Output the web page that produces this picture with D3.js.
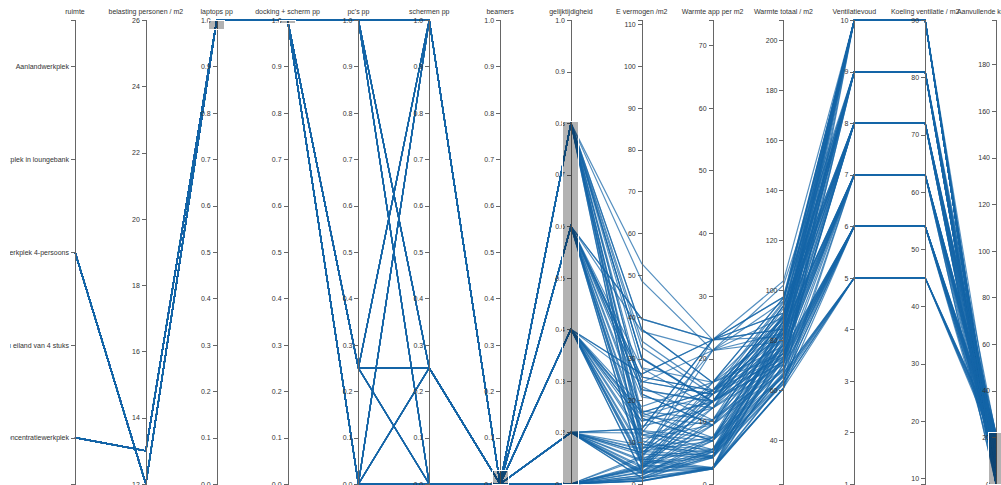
<!DOCTYPE html>
<html>
<head>
<meta charset="utf-8">
<style>
body { margin: 0; background: #fff; overflow: hidden; }
svg { position: absolute; left: 10px; top: 0; font: 7px Arial, "Liberation Sans", sans-serif; }
.foreground path { fill: none; stroke: #1565a8; stroke-opacity: .72; stroke-width: 1.2; }
.axis path, .axis line { fill: none; stroke: #666; shape-rendering: crispEdges; }
.axis text { fill: #333; }
.title { fill: #333; text-anchor: middle; }
.brush .selection { fill: #000; fill-opacity: .3; stroke: #fff; shape-rendering: crispEdges; }
</style>
</head>
<body>
<script src="https://cdn.jsdelivr.net/npm/d3@7"></script>
<script>
// axis titles, left to right
const dims = ["ruimte", "belasting personen / m2", "laptops pp", "docking + scherm pp",
  "pc's pp", "schermen pp", "beamers", "gelijktijdigheid", "E vermogen /m2",
  "Warmte app per m2", "Warmte totaal / m2", "Ventilatievoud",
  "Koeling ventilatie / m2", "Aanvullende koeling / m2"];

const ruimteCategories = ["Aanlandwerkplek", "Werkplek in loungebank", "Werkplek 4-persoons",
  "Bureau eiland van 4 stuks", "Concentratiewerkplek"];

// axis extents and tick counts (numeric axes, same order as dims after "ruimte")
const axisMin = [12, 0, 0, 0, 0, 0, 0.1, 0, 0, 22.4, 1, 9, 0];
const axisMax = [26, 1, 1, 1, 1, 1, 1, 111, 74, 208, 10, 90, 199];
const tickCount = [7, 10, 10, 10, 10, 10, 10, 10, 10, 10, 10, 10, 10];

// brushed ranges
const brushDims = ["laptops pp", "docking + scherm pp", "beamers", "gelijktijdigheid", "Aanvullende koeling / m2"];
const brushMin = [0.98, 0.992, 0, 0.1, 0];
const brushMax = [1, 1, 0.03, 0.803, 22.3];

// one entry per visible line
const ruimteIdx = [
  2,2,2,2,2,2,2,2,2, 2,2,2,2,2,2,2,2,2, 2,2,2,2,2,2,2,2,2, 2,2,2,2,2,2,2,2,2, 2,2,2,2,2,2,2,2,2,
  4,4,4,4,4,4,4,4,4, 4,4,4,4,4,4,4,4,4, 4,4,4,4,4,4,4,4,4, 4,4,4,4,4,4,4,4,4, 4,4,4,4,4,4,4,4,4,
  2,2,2,2,2,4,4,4,2,4,2,4];
const belasting = [
  12,12,12,12,12,12,12,12,12, 12,12,12,12,12,12,12,12,12, 12,12,12,12,12,12,12,12,12, 12,12,12,12,12,12,12,12,12, 12,12,12,12,12,12,12,12,12,
  13,13,13,13,13,13,13,13,13, 13,13,13,13,13,13,13,13,13, 13,13,13,13,13,13,13,13,13, 13,13,13,13,13,13,13,13,13, 13,13,13,13,13,13,13,13,13,
  12,12,12,12,12,13,13,13,12,13,12,13];
const laptops = [
  1,1,1,1,1,1,1,1,1, 1,1,1,1,1,1,1,1,1, 1,1,1,1,1,1,1,1,1, 1,1,1,1,1,1,1,1,1, 1,1,1,1,1,1,1,1,1,
  1,1,1,1,1,1,1,1,1, 1,1,1,1,1,1,1,1,1, 1,1,1,1,1,1,1,1,1, 1,1,1,1,1,1,1,1,1, 1,1,1,1,1,1,1,1,1,
  1,1,1,1,1,1,1,1,1,1,1,1];
const docking = [
  1,1,1,1,1,1,1,1,1, 1,1,1,1,1,1,1,1,1, 1,1,1,1,1,1,1,1,1, 1,1,1,1,1,1,1,1,1, 1,1,1,1,1,1,1,1,1,
  1,1,1,1,1,1,1,1,1, 1,1,1,1,1,1,1,1,1, 1,1,1,1,1,1,1,1,1, 1,1,1,1,1,1,1,1,1, 1,1,1,1,1,1,1,1,1,
  1,1,1,1,1,1,1,1,1,1,1,1];
const pcs = [
  1,1,1,.25,.25,.25,0,0,0, 1,1,1,.25,.25,.25,0,0,0, 1,1,1,.25,.25,.25,0,0,0, 1,1,1,.25,.25,.25,0,0,0, 1,1,1,.25,.25,.25,0,0,0,
  1,1,1,.25,.25,.25,0,0,0, 1,1,1,.25,.25,.25,0,0,0, 1,1,1,.25,.25,.25,0,0,0, 1,1,1,.25,.25,.25,0,0,0, 1,1,1,.25,.25,.25,0,0,0,
  1,.25,1,1,1,.25,1,1,0,0,1,0];
const schermen = [
  1,.25,0,1,.25,0,1,.25,0, 1,.25,0,1,.25,0,1,.25,0, 1,.25,0,1,.25,0,1,.25,0, 1,.25,0,1,.25,0,1,.25,0, 1,.25,0,1,.25,0,1,.25,0,
  1,.25,0,1,.25,0,1,.25,0, 1,.25,0,1,.25,0,1,.25,0, 1,.25,0,1,.25,0,1,.25,0, 1,.25,0,1,.25,0,1,.25,0, 1,.25,0,1,.25,0,1,.25,0,
  .25,1,1,1,1,.25,.25,.25,0,0,0,1];
const beamers = [
  0,0,0,0,0,0,0,0,0, 0,0,0,0,0,0,0,0,0, 0,0,0,0,0,0,0,0,0, 0,0,0,0,0,0,0,0,0, 0,0,0,0,0,0,0,0,0,
  0,0,0,0,0,0,0,0,0, 0,0,0,0,0,0,0,0,0, 0,0,0,0,0,0,0,0,0, 0,0,0,0,0,0,0,0,0, 0,0,0,0,0,0,0,0,0,
  0,0,0,0,0,0,0,0,0,0,0,0];
const gelijktijdigheid = [
  .8,.8,.8,.8,.8,.8,.8,.8,.8, .6,.6,.6,.6,.6,.6,.6,.6,.6, .4,.4,.4,.4,.4,.4,.4,.4,.4, .2,.2,.2,.2,.2,.2,.2,.2,.2, .1,.1,.1,.1,.1,.1,.1,.1,.1,
  .8,.8,.8,.8,.8,.8,.8,.8,.8, .6,.6,.6,.6,.6,.6,.6,.6,.6, .4,.4,.4,.4,.4,.4,.4,.4,.4, .2,.2,.2,.2,.2,.2,.2,.2,.2, .1,.1,.1,.1,.1,.1,.1,.1,.1,
  .8,.8,.6,.4,.2,.8,.6,.4,.1,.1,.6,.8];
const eVermogen = [
  52.7,37.0,32.7,30.0,17.0,12.7,23.3,10.3,6.0,
  39.5,27.8,24.5,22.5,12.8,9.5,17.5,7.8,4.5,
  26.3,18.5,16.3,15.0,8.5,6.3,11.7,5.2,3.0,
  13.2,9.3,8.2,7.5,4.3,3.2,5.8,2.6,1.5,
  6.6,4.6,4.1,3.8,2.1,1.6,2.9,1.3,0.8,
  48.6,34.2,30.2,27.7,15.7,11.7,21.5,9.5,5.5,
  36.5,25.6,22.6,20.8,11.8,8.8,16.2,7.2,4.2,
  24.3,17.1,15.1,13.8,7.8,5.8,10.8,4.8,2.8,
  12.2,8.5,7.5,6.9,3.9,2.9,5.4,2.4,1.4,
  6.1,4.3,3.8,3.5,2.0,1.5,2.7,1.2,0.7,
  37.0,30.0,39.5,26.3,13.2,15.7,25.6,17.1,0.8,0.7,24.5,21.5];
const warmteApp = [
  23.0,16.2,14.3,13.1,7.4,5.5,10.2,4.5,2.6,
  23.0,16.2,14.3,13.1,7.4,5.5,10.2,4.5,2.6,
  23.0,16.2,14.3,13.1,7.4,5.5,10.2,4.5,2.6,
  23.0,16.2,14.3,13.1,7.4,5.5,10.2,4.5,2.6,
  23.0,16.2,14.3,13.1,7.4,5.5,10.2,4.5,2.6,
  21.3,14.9,13.2,12.1,6.9,5.1,9.4,4.2,2.4,
  21.3,14.9,13.2,12.1,6.9,5.1,9.4,4.2,2.4,
  21.3,14.9,13.2,12.1,6.9,5.1,9.4,4.2,2.4,
  21.3,14.9,13.2,12.1,6.9,5.1,9.4,4.2,2.4,
  21.3,14.9,13.2,12.1,6.9,5.1,9.4,4.2,2.4,
  16.2,13.1,23.0,23.0,23.0,6.9,14.9,14.9,2.6,2.4,14.3,9.4];
const warmteTotaal = [
  103.6,96.8,94.9,93.7,88.0,86.1,90.8,85.1,83.2,
  97.2,90.4,88.5,87.3,81.6,79.7,84.4,78.7,76.8,
  90.8,84.0,82.1,80.9,75.2,73.3,78.0,72.3,70.4,
  84.4,77.6,75.7,74.5,68.8,66.9,71.6,65.9,64.0,
  81.2,74.4,72.5,71.3,65.6,63.7,68.4,62.7,60.8,
  101.9,95.5,93.8,92.7,87.5,85.7,90.0,84.8,83.0,
  95.5,89.1,87.4,86.3,81.1,79.3,83.6,78.4,76.6,
  89.1,82.7,81.0,79.9,74.7,72.9,77.2,72.0,70.2,
  82.7,76.3,74.6,73.5,68.3,66.5,70.8,66.0,63.8,
  79.5,73.1,71.4,70.3,65.1,63.3,67.6,62.4,60.6,
  96.8,93.7,97.2,90.8,84.4,87.5,89.1,82.7,60.8,60.6,88.5,90.0];
const ventilatievoud = [
  10,9,10,8,9,10,8,9,7,
  9,10,8,9,7,8,10,9,7,
  8,7,9,10,6,8,7,6,9,
  10,8,6,7,6,5,8,6,5,
  9,6,10,7,5,6,6,5,7,
  9,10,8,10,8,9,9,7,10,
  10,9,10,8,9,7,8,10,8,
  9,8,7,9,7,6,10,8,6,
  8,7,9,6,7,5,6,10,6,
  7,8,6,9,5,7,6,5,10,
  10,9,10,10,7,10,8,10,5,6,9,10];
const koeling = [
  90,81,90,72,81,90,72,81,63,
  81,90,72,81,63,72,90,81,63,
  72,63,81,90,54,72,63,54,81,
  90,72,54,63,54,45,72,54,45,
  81,54,90,63,45,54,54,45,63,
  81,90,72,90,72,81,81,63,90,
  90,81,90,72,81,63,72,90,72,
  81,72,63,81,63,54,90,72,54,
  72,63,81,54,63,45,54,90,54,
  63,72,54,81,45,63,54,45,90,
  90,81,90,90,63,90,72,90,45,54,81,90];
const aanvullend = [
  13.6,15.8,4.9,21.7,7.0,0,18.8,4.1,20.2,
  16.2,0.4,16.5,6.3,18.6,7.7,0,0,13.8,
  18.8,21.0,1.1,0,21.2,1.3,15.0,18.3,0,
  0,5.6,21.7,11.5,14.8,21.9,0,11.9,19.0,
  0.2,20.4,0,8.3,20.6,9.7,14.4,17.7,0,
  20.9,5.5,21.8,2.7,15.5,4.7,9.0,21.8,0,
  5.5,8.1,0,14.3,0.1,16.3,11.6,0,4.6,
  8.1,10.7,18.0,0,11.7,18.9,0,0,16.2,
  10.7,13.3,0,19.5,5.3,21.5,16.8,0,9.8,
  16.5,1.1,17.4,0,20.1,0.3,13.6,17.4,0,
  6.8,12.7,7.2,0.8,21.4,0,17.1,0,15.8,6.6,7.5,0];

const columns = [belasting, laptops, docking, pcs, schermen, beamers, gelijktijdigheid,
  eVermogen, warmteApp, warmteTotaal, ventilatievoud, koeling, aanvullend];

const rows = ruimteIdx.map(function(r, i) {
  var row = { "ruimte": ruimteCategories[r] };
  columns.forEach(function(col, j) { row[dims[j + 1]] = col[i]; });
  return row;
});

var yTop = 20, yBottom = 484;

// svg sits 10px in, so ruimte labels clip at the page edge
var svg = d3.select("body").append("svg")
  .attr("width", 991)
  .attr("height", 485)
  .append("g")
  .attr("transform", "translate(-10,0)");

var x = d3.scalePoint().domain(dims).range([75, 996]);

var y = {}, nTicks = {};
y["ruimte"] = d3.scalePoint().domain(ruimteCategories).range([yTop, yBottom]).padding(0.5);
nTicks["ruimte"] = null;
dims.slice(1).forEach(function(d, j) {
  y[d] = d3.scaleLinear().domain([axisMin[j], axisMax[j]]).range([yBottom, yTop]);
  nTicks[d] = tickCount[j];
});

var line = d3.line();
function path(row) {
  return line(dims.map(function(d) { return [x(d), y[d](row[d])]; }));
}

// lines
svg.append("g")
  .attr("class", "foreground")
  .selectAll("path")
  .data(rows)
  .enter().append("path")
  .attr("d", path);

// one group per axis
var g = svg.selectAll(".dimension")
  .data(dims)
  .enter().append("g")
  .attr("class", "dimension")
  .attr("transform", function(d) { return "translate(" + x(d) + ")"; });

g.append("g")
  .attr("class", "axis")
  .each(function(d) {
    var axis = d3.axisLeft(y[d]).tickSize(4).tickPadding(2);
    if (nTicks[d]) axis.ticks(nTicks[d]);
    d3.select(this).call(axis);
  })
  .selectAll("text")
  .style("font-size", "7px");

g.append("text")
  .attr("class", "title")
  .attr("y", 14)
  .text(function(d) { return d; });

// brushes
g.filter(function(d) { return brushDims.indexOf(d) >= 0; })
  .append("g")
  .attr("class", "brush")
  .each(function(d) {
    var k = brushDims.indexOf(d);
    var brush = d3.brushY().extent([[-8, yTop], [8, yBottom]]);
    d3.select(this).call(brush)
      .call(brush.move, [y[d](brushMax[k]), y[d](brushMin[k])]);
  });
</script>
</body>
</html>
